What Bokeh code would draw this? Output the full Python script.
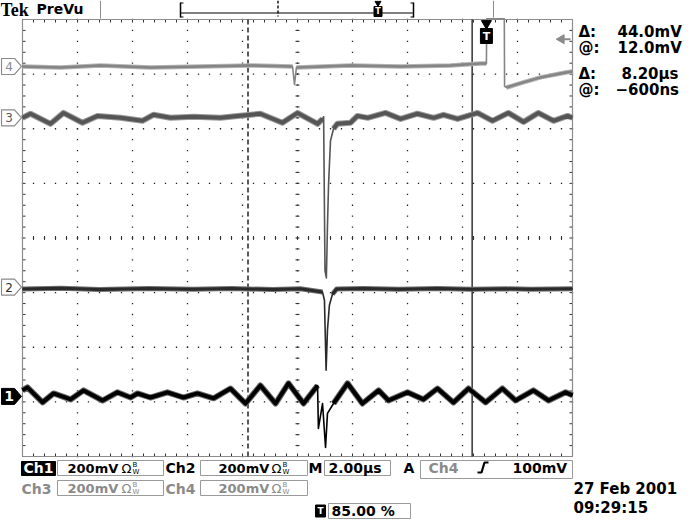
import numpy as np
from bokeh.plotting import figure
from bokeh.models import Range1d
from bokeh.core.properties import value
from bokeh.embed import file_html
from bokeh.resources import INLINE

# ---------------- data (time in us from trigger, level in mV from channel ground) ----------------
ch1_t = [-17.0, -16.82, -16.27, -15.87, -15.25, -14.78, -14.09, -13.55, -13.07, -12.82, -12.35,
         -11.73, -11.15, -10.64, -10.05, -9.44, -8.89, -8.35, -7.80, -7.33, -6.78, -6.27, -6.24,
         -6.09, -5.98, -5.91, -5.69, -5.18, -4.64, -4.05, -3.69, -3.00, -2.42, -1.91, -1.33,
         -0.78, -0.16, 0.45, 0.93, 1.58, 2.13, 2.75, 3.0]
ch1_mv = [22, 33, -22, 11, -11, 22, -15, 15, -4, 11, -4, 15, -4, 11, -7, 29, -26, 40, -26, 48,
          -26, 40, -117, -26, -187, -62, -26, 48, -26, 22, -15, 15, -11, 29, -22, 29, -22, 29,
          -15, 22, -15, 15, 4]

ch2_t = [-17.0, -15.6, -14.2, -12.4, -10.8, -9.4, -7.9, -6.9, -6.09, -6.02, -5.96, -5.91, -5.84,
         -5.73, -5.58, -4.6, -3.3, -1.9, -0.7, 0.6, 1.5, 3.0]
ch2_mv = [-7, -4, -9, -5, -8, -5, -9, -6, -18, -48, -304, -157, -66, -26, -7, -5, -8, -5, -8,
          -6, -8, -6]

ch3_t = [-17.0, -16.71, -15.98, -15.51, -14.82, -14.27, -13.44, -12.64, -12.24, -11.62, -10.78,
         -9.80, -9.18, -8.35, -7.55, -7.0, -6.27, -6.09, -6.05, -6.0, -5.95, -5.91, -5.87, -5.80,
         -5.69, -5.55, -5.07, -4.82, -4.45, -3.80, -3.25, -2.64, -2.05, -1.69, -1.18, -0.45,
         0.09, 0.67, 1.22, 1.76, 2.31, 2.82, 3.0]
ch3_mv = [0, 15, -22, 18, -18, 7, 0, -11, 11, 0, 4, 0, 7, 15, -18, 18, -22, -4, 4, -560, -586,
          -395, -242, -84, -40, -22, -18, 7, 0, 18, -4, 15, 0, 11, -4, 18, -11, 18, -15, 18,
          -11, 7, 0]

ch4_t = [-17.0, -15.62, -14.16, -12.35, -10.53, -8.71, -7.18, -7.11, -7.04, -5.07, -3.25, -1.44,
         -0.35, -0.13, -0.12, 0.52, 0.53, 0.60, 1.18, 1.84, 2.75, 3.0]
ch4_mv = [0, -4, 4, -4, 0, 4, 0, -66, -4, 4, 0, 4, 11, 11, 175, 175, -73, -77, -59, -40, -22, -18]

ch_pos_div = [-2.90, -0.90, 2.20, 3.14]       # ground positions of Ch1..Ch4 (divisions)
mv_per_div = 200
us_per_div = 2
t_left, t_right = -17.0, 3.0
trigger_t = -0.13
trigger_level_mv = 100
cursor_t = [-8.8, -0.65]

readouts = ["44.0mV", "12.0mV", "8.20\u00b5s", "\u2212600ns"]
bottom_vals = ["200mV", "200mV", "200mV", "200mV"]
timebase = "2.00\u00b5s"
trig_pct = "85.00 %"
date_txt = "27 Feb  2001"
time_txt = "09:29:15"

# ---------------- geometry helpers (screen pixel -> data) ----------------
FIG_W, FIG_H = 694, 519
PX_PER_DIV_X, PX_PER_DIV_Y = 55.0, 54.625
GL, GT = 22.0, 19.0          # graticule left / top
CY = GT + 4 * PX_PER_DIV_Y


def X(px):
    return t_left + (px - GL) / PX_PER_DIV_X * us_per_div


def Y(py):
    return (CY - py) / PX_PER_DIV_Y


p = figure(width=FIG_W, height=FIG_H, x_range=Range1d(X(0), X(FIG_W)),
           y_range=Range1d(Y(FIG_H), Y(0)), x_axis_location=None, y_axis_location=None,
           toolbar_location=None, output_backend="svg", min_border=0,
           outline_line_color=None, background_fill_color="white", border_fill_color="white")
p.grid.visible = False

SANS = value("DejaVu Sans")


def txt(px, py, s, size=14, color="black", style="bold", align="left", font=SANS):
    p.text(x=[X(px)], y=[Y(py)], text=[s], text_font=font, text_font_size=f"{size}px",
           text_font_style=style, text_color=color, text_align=align, text_baseline="middle")


def box(x0, y0, x1, y1, line="#9a9a9a", fill=None, lw=1):
    p.quad(left=[X(x0)], right=[X(x1)], top=[Y(y0)], bottom=[Y(y1)], fill_color=fill,
           line_color=line, line_width=lw)


def seg(x0, y0, x1, y1, color="black", lw=1, dash="solid"):
    p.segment(x0=[X(x0)], y0=[Y(y0)], x1=[X(x1)], y1=[Y(y1)], line_color=color,
              line_width=lw, line_dash=dash)


# ---------------- graticule ----------------
dx = 1.0 / PX_PER_DIV_X * us_per_div   # one pixel in us
dy = 1.0 / PX_PER_DIV_Y                # one pixel in div
gx, gy = [], []
for k in range(1, 10):
    for j in range(41):
        gx.append(t_left + k * us_per_div)
        gy.append(-4 + j * 0.2)
for k in range(1, 8):
    for j in range(51):
        gx.append(t_left + j * 0.2 * us_per_div)
        gy.append(-4 + k)
p.rect(gx, gy, width=1.3, height=1.3, width_units="screen", height_units="screen",
       fill_color="#222222", line_color=None)

tx = t_left + np.arange(51) * 0.2 * us_per_div
ty = -4 + np.arange(41) * 0.2
xc = t_left + 5 * us_per_div
TK = "#333333"
p.segment(x0=tx, y0=4 - 0 * tx, x1=tx, y1=4 - 3 * dy, line_color=TK, line_width=1)
p.segment(x0=tx, y0=-4 + 0 * tx, x1=tx, y1=-4 + 3 * dy, line_color=TK, line_width=1)
p.segment(x0=tx, y0=-2 * dy + 0 * tx, x1=tx, y1=2 * dy, line_color=TK, line_width=1)
p.segment(x0=t_left + 0 * ty, y0=ty, x1=t_left + 3 * dx, y1=ty, line_color=TK, line_width=1)
p.segment(x0=t_right + 0 * ty, y0=ty, x1=t_right - 3 * dx, y1=ty, line_color=TK, line_width=1)
p.segment(x0=xc - 2 * dx + 0 * ty, y0=ty, x1=xc + 2 * dx, y1=ty, line_color=TK, line_width=1)
p.line([t_left, t_right, t_right, t_left, t_left], [-4, -4, 4, 4, -4], line_color="#8c8c8c",
       line_width=1.2)

# cursors
p.line([cursor_t[0]] * 2, [-4, 4], line_color="black", line_width=1.3, line_dash="5 3")
p.line([cursor_t[1]] * 2, [-4, 4], line_color="black", line_width=1.2)


# ---------------- traces ----------------
def trace(t, mv, pos, color, fringe, w_thick, windows):
    t = np.asarray(t, float)
    y = pos + np.asarray(mv, float) / mv_per_div
    y = np.clip(y, -4.05, 4.05)
    yb = y.copy()
    m = np.zeros(len(t), bool)
    for lo, hi in windows:
        m |= (t > lo) & (t < hi)
    yb[m] = np.nan
    p.line(t, yb, line_color=fringe, line_width=w_thick + 2, line_join="round")
    p.line(t, y, line_color=color, line_width=1.6, line_join="round")
    p.line(t, yb, line_color=color, line_width=w_thick, line_join="round")


trace(ch4_t, ch4_mv, ch_pos_div[3], "#858585", "#b4b4b4", 2.5, [(-7.15, -7.07), (-0.125, 0.55)])
trace(ch3_t, ch3_mv, ch_pos_div[2], "#555555", "#9a9a9a", 4, [(-6.07, -5.7)])
trace(ch2_t, ch2_mv, ch_pos_div[1], "#2a2a2a", "#707070", 3, [(-6.03, -5.75)])
trace(ch1_t, ch1_mv, ch_pos_div[0], "#000000", "#6a6a6a", 4, [(-6.26, -5.7)])

# ---------------- trigger marks ----------------
p.scatter([trigger_t], [Y(23)], marker="inverted_triangle", size=10, fill_color="black",
          line_color="black")
p.rect([trigger_t], [Y(35.5)], width=12, height=15, width_units="screen", height_units="screen",
       fill_color="black", line_color="black")
p.text(x=[trigger_t], y=[Y(35.5)], text=["T"], text_font=SANS, text_font_size="11px",
       text_font_style="bold", text_color="white", text_align="center", text_baseline="middle")
lvl = ch_pos_div[3] + trigger_level_mv / mv_per_div
p.scatter([X(561)], [lvl], marker="triangle", angle=np.pi / 2, size=9, fill_color="#8a8a8a",
          line_color="#8a8a8a")
p.segment(x0=[X(563)], y0=[lvl], x1=[X(570)], y1=[lvl], line_color="#8a8a8a", line_width=2)

# ---------------- channel ground markers ----------------
for i, (pos, num) in enumerate(zip(ch_pos_div, ["1", "2", "3", "4"])):
    cy = CY - pos * PX_PER_DIV_Y
    xs = [X(1), X(14), X(21), X(14), X(1)]
    ys = [Y(cy - 8), Y(cy - 8), Y(cy), Y(cy + 8), Y(cy + 8)]
    if i == 0:
        p.patch(xs, ys, fill_color="black", line_color="black")
        txt(8.5, cy, num, 14, "white", align="center")
    else:
        p.patch(xs, ys, fill_color="white", line_color="#8a8a8a", line_width=1.2)
        txt(8.5, cy, num, 12, ["#2e2e2e", "#5a5a5a", "#8a8a8a"][i - 1], style="normal",
            align="center")

# ---------------- top bar ----------------
txt(0, 9.5, "Tek", 18, style="bold", font=value("Liberation Serif"))
txt(36, 8.5, "PreVu", 14, style="bold")
seg(100, 0, 100, 18, "#8c8c8c", 1)
seg(180, 2, 180, 17, "black", 1.5)
seg(180, 2.5, 183, 2.5, "black", 1)
seg(180, 16.5, 183, 16.5, "black", 1)
seg(180, 12.5, 413, 12.5, "black", 1)
seg(277.5, 0, 277.5, 16, "black", 1.4, "3 2")
seg(413, 2, 413, 17, "black", 1.5)
seg(410, 2.5, 413, 2.5, "black", 1)
seg(410, 16.5, 413, 16.5, "black", 1)
p.scatter([X(377.5)], [Y(2.5)], marker="inverted_triangle", size=6, fill_color="black",
          line_color="black")
p.rect([X(377.5)], [Y(11)], width=8, height=10, width_units="screen", height_units="screen",
       fill_color="black", line_color="black")
p.text(x=[X(377.5)], y=[Y(11)], text=["T"], text_font=SANS, text_font_size="8px",
       text_font_style="bold", text_color="white", text_align="center", text_baseline="middle")
seg(493, 0, 493, 17, "#8c8c8c", 1)

# ---------------- right readouts ----------------
for yy, lab, val, xv in [(31.5, "\u0394:", readouts[0], 617), (47, "@:", readouts[1], 617),
                         (73, "\u0394:", readouts[2], 621), (89, "@:", readouts[3], 615)]:
    txt(578, yy, lab, 15)
    txt(xv, yy, val, 15)

# ---------------- bottom status area ----------------
GRAY = "#8a8a8a"
r1, r2, r3 = 467.5, 488, 510.5
box(21, 461, 55, 475, line="black", fill="black")
txt(38, r1, "Ch1", 14, "white", align="center")
box(57, 460, 163, 475)
txt(67, r1, bottom_vals[0], 13)
txt(121, r1, "\u03a9", 13, style="normal")
txt(132, r1 - 3.5, "B", 7, style="normal")
txt(132, r1 + 3.5, "W", 7, style="normal")
txt(165, r1, "Ch2", 14)
box(200, 460, 307, 475)
txt(218, r1, bottom_vals[1], 13)
txt(271, r1, "\u03a9", 13, style="normal")
txt(282, r1 - 3.5, "B", 7, style="normal")
txt(282, r1 + 3.5, "W", 7, style="normal")
txt(308, r1, "M", 14)
box(324, 460, 390, 475)
txt(328, r1, timebase, 14)
txt(403, r1, "A", 14)
box(420, 460, 572, 478)
txt(428, r1, "Ch4", 14, GRAY)
p.line([X(477), X(481), X(484), X(488)], [Y(472), Y(472), Y(462), Y(462)], line_color="black",
       line_width=2.2)
txt(512, r1, "100mV", 14)

txt(21, r2, "Ch3", 14, GRAY)
box(57, 480, 163, 495)
txt(67, r2, bottom_vals[2], 13, GRAY)
txt(121, r2, "\u03a9", 13, GRAY, style="normal")
txt(132, r2 - 3.5, "B", 7, GRAY, style="normal")
txt(132, r2 + 3.5, "W", 7, GRAY, style="normal")
txt(165, r2, "Ch4", 14, GRAY)
box(200, 480, 307, 495)
txt(218, r2, bottom_vals[3], 13, GRAY)
txt(271, r2, "\u03a9", 13, GRAY, style="normal")
txt(282, r2 - 3.5, "B", 7, GRAY, style="normal")
txt(282, r2 + 3.5, "W", 7, GRAY, style="normal")

p.rect([X(320)], [Y(r3)], width=10, height=12, width_units="screen", height_units="screen",
       fill_color="black", line_color="black")
p.text(x=[X(320)], y=[Y(r3)], text=["T"], text_font=SANS, text_font_size="9px",
       text_font_style="bold", text_color="white", text_align="center", text_baseline="middle")
box(328, 503, 410, 518)
txt(331, r3, trig_pct, 14)

txt(573, r2, date_txt, 15)
txt(573, 507, time_txt, 15)

open("out.html", "w").write(file_html(p, INLINE))
